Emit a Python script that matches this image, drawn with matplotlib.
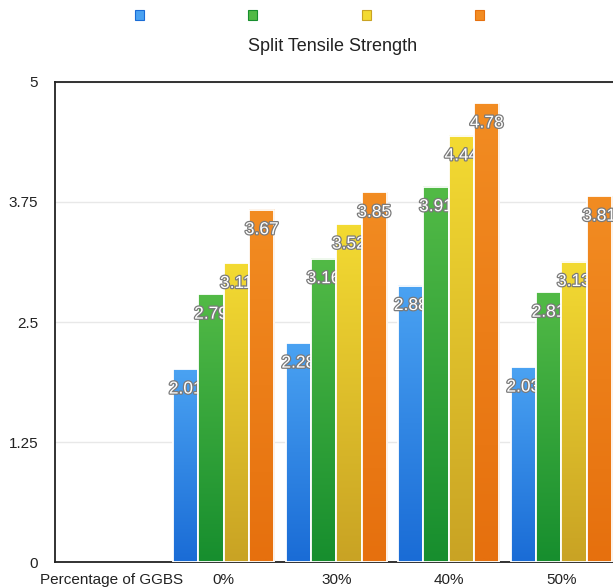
import numpy as np
import matplotlib
matplotlib.use("Agg")
import matplotlib.pyplot as plt
import matplotlib.patheffects as pe
from matplotlib.patches import Rectangle

plt.rcParams['font.family'] = ['Liberation Sans Narrow', 'Liberation Sans', 'DejaVu Sans']

categories = ['Percentage of GGBS', '0%', '30%', '40%', '50%']
# first category is only the axis caption, it has no bars
series = [
    [np.nan, 2.01, 2.28, 2.88, 2.03],
    [np.nan, 2.79, 3.16, 3.91, 2.81],
    [np.nan, 3.11, 3.52, 4.44, 3.13],
    [np.nan, 3.67, 3.85, 4.78, 3.81],
]
yticks = [0, 1.25, 2.5, 3.75, 5]

# top / bottom colour of each bar gradient
grad = [
    ('#4aa2f2', '#1a6cd6'),
    ('#52ba46', '#178e2e'),
    ('#f3da32', '#c9a324'),
    ('#f28c22', '#e6700e'),
]


def hex2rgb(h):
    return np.array(matplotlib.colors.to_rgb(h))


fig = plt.figure(figsize=(6.13, 5.88), dpi=100)
ax = fig.add_axes([55 / 613, 26 / 588, 562.5 / 613, 480 / 588])

x = np.arange(len(categories))
w = 0.225
offsets = (np.arange(4) - 1.5) * w

for i, vals in enumerate(series):
    top, bot = hex2rgb(grad[i][0]), hex2rgb(grad[i][1])
    t = np.linspace(0, 1, 64)[:, None, None]
    img = top * (1 - t) + bot * t
    for xc, v in zip(x + offsets[i], vals):
        if np.isnan(v):
            continue
        ax.imshow(img, extent=[xc - w / 2, xc + w / 2, 0, v], aspect='auto',
                  origin='upper', zorder=3 + 2 * i, interpolation='bilinear')
        ax.add_patch(Rectangle((xc - w / 2, 0), w, v, facecolor='none',
                               edgecolor='white', lw=1.3, zorder=3 + 2 * i))
        ax.annotate(f'{v:.2f}', (xc, v), xytext=(0, -20), textcoords='offset pixels',
                    ha='center', va='center', fontsize=12.5, color='white',
                    zorder=4 + 2 * i,
                    path_effects=[pe.withStroke(linewidth=1.8, foreground='#7a7a7a')])

ax.set_xlim(-0.5, len(categories) - 0.5)
ax.set_ylim(0, 5)
ax.set_yticks(yticks)
ax.set_yticklabels(['0', '1.25', '2.5', '3.75', '5'])
ax.set_xticks(x)
ax.set_xticklabels(categories)
ax.tick_params(length=0, labelsize=11, colors='#222222')
ax.tick_params(axis='y', pad=12)
ax.tick_params(axis='x', pad=8)
ax.grid(axis='y', color='#e8e8e8', lw=1)
ax.set_axisbelow(True)
for s in ['left', 'top', 'bottom']:
    ax.spines[s].set_color('#222222')
    ax.spines[s].set_linewidth(1.3)
ax.spines['right'].set_visible(False)

ax.set_title('Split Tensile Strength', fontsize=13, color='#222222', pad=22,
             x=(333 - 55) / 562.5)

handles = [Rectangle((0, 0), 1, 1, facecolor=g[0], edgecolor=g[1], lw=0.8) for g in grad]
fig.legend(handles, ['', '', '', ''], ncol=4, loc='center',
           bbox_to_anchor=(309.5 / 613, 1 - 16 / 588), frameon=False,
           handlelength=0.65, handleheight=0.65, handletextpad=0,
           columnspacing=7.5, fontsize=10)

fig.savefig('out.png', dpi=100)
